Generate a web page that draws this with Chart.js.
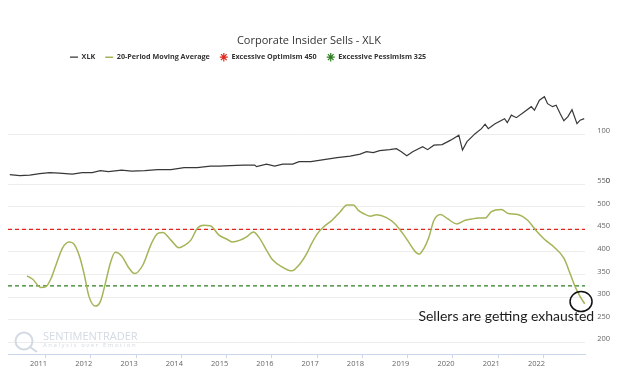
<!DOCTYPE html>
<html>
<head>
<meta charset="utf-8">
<title>Corporate Insider Sells - XLK</title>
<script src="https://cdn.jsdelivr.net/npm/chart.js@4.4.1/dist/chart.umd.min.js"></script>
<style>
  html, body { margin: 0; padding: 0; background: #fff; }
</style>
</head>
<body>
<canvas id="chart" width="635" height="383"></canvas>
<script>
'use strict';

// ─── Data ─────────────────────────────────────────────────────────────────────

// XLK price, dates as decimal years
const xlkDates = [
  2010.21, 2010.43, 2010.65, 2010.87, 2011.09, 2011.30, 2011.59, 2011.81,
  2012.03, 2012.21, 2012.39, 2012.68, 2012.90, 2013.19, 2013.48, 2013.77,
  2014.06, 2014.35, 2014.64, 2014.83, 2015.08, 2015.37, 2015.62, 2015.66,
  2015.88, 2016.06, 2016.24, 2016.46, 2016.60, 2016.86, 2017.15, 2017.44,
  2017.73, 2017.95, 2018.09, 2018.24, 2018.38, 2018.60, 2018.75, 2018.86,
  2018.98, 2019.11, 2019.33, 2019.44, 2019.58, 2019.76, 2019.95, 2020.13,
  2020.21, 2020.31, 2020.49, 2020.63, 2020.71, 2020.78, 2020.93, 2021.14,
  2021.20, 2021.29, 2021.40, 2021.58, 2021.73, 2021.80, 2021.91, 2022.02,
  2022.09, 2022.20, 2022.28, 2022.37, 2022.45, 2022.54, 2022.63, 2022.74,
  2022.81, 2022.90
];
const xlkValues = [
  19, 17, 18, 21, 23, 22, 20, 23,
  23, 27, 25, 28, 26, 27, 29, 29,
  33, 33, 36, 36, 37, 38, 38, 35,
  40, 36, 40, 40, 45, 45, 49, 53,
  56, 60, 65, 63, 67, 69, 71, 65,
  57, 65, 75, 69, 78, 79, 88, 98,
  68, 85, 101, 111, 120, 111, 121, 131,
  123, 138, 133, 145, 155, 148, 168, 175,
  161, 155, 158, 141, 127, 135, 149, 121,
  128, 131
];

// 20-period moving average of insider sells
const maDates = [
  2010.59, 2010.71, 2010.90, 2011.01, 2011.12, 2011.23, 2011.37, 2011.52, 2011.61, 2011.74,
  2011.85, 2011.96, 2012.10, 2012.21, 2012.32, 2012.43, 2012.54, 2012.68, 2012.83, 2012.97,
  2013.15, 2013.34, 2013.48, 2013.59, 2013.77, 2013.95, 2014.06, 2014.21, 2014.35, 2014.50,
  2014.64, 2014.83, 2015.01, 2015.12, 2015.30, 2015.44, 2015.59, 2015.73, 2015.88, 2016.02,
  2016.24, 2016.44, 2016.60, 2016.79, 2016.86, 2017.01, 2017.15, 2017.33, 2017.51, 2017.66,
  2017.80, 2017.91, 2018.02, 2018.17, 2018.31, 2018.53, 2018.71, 2018.89, 2019.04, 2019.17,
  2019.25, 2019.36, 2019.47, 2019.58, 2019.73, 2019.87, 2020.09, 2020.27, 2020.42, 2020.56,
  2020.71, 2020.85, 2021.07, 2021.22, 2021.43, 2021.65, 2021.83, 2022.02, 2022.23, 2022.45,
  2022.60, 2022.70, 2022.81, 2022.91
];
const maValues = [
  347, 340, 321, 323, 341, 371, 408, 422, 419, 393,
  352, 301, 280, 290, 330, 375, 399, 391, 366, 352,
  371, 419, 441, 443, 426, 409, 414, 426, 452, 459,
  458, 437, 428, 422, 426, 433, 444, 430, 404, 382,
  366, 358, 371, 400, 415, 441, 456, 470, 489, 504,
  504, 492, 485, 479, 482, 476, 463, 441, 419, 400,
  395, 408, 433, 470, 483, 474, 462, 470, 473, 475,
  475, 489, 494, 485, 483, 470, 448, 428, 411, 386,
  349, 323, 301, 285
];

const optimismLevel  = 450;
const pessimismLevel = 325;

const yearTicks  = [2011, 2012, 2013, 2014, 2015, 2016, 2017, 2018, 2019, 2020, 2021, 2022];
const priceTicks = [0, 100];
const sellTicks  = [200, 250, 300, 350, 400, 450, 500, 550];

const xMin = 2010.17;
const xMax = 2022.92;

// callout near the last reading
const calloutYear  = 2022.83;
const calloutLevel = 290;
const noteLevel    = 256;
const noteText     = 'Sellers are getting exhausted';

// ─── Helpers ──────────────────────────────────────────────────────────────────

const FONT = '"Open Sans", "Noto Sans", sans-serif';
const toPoints = (xs, ys) => xs.map((x, i) => ({ x, y: ys[i] }));
const fixedTicks = list => axis => { axis.ticks = list.map(v => ({ value: v })); };

// legend sits left of centre in the original, a bit closer to the title
const legendNudge = {
  id: 'legendNudge',
  afterLayout(chart) {
    const lg = chart.legend;
    lg.left += 52; lg.right += 52;
    lg.top -= 4; lg.bottom -= 4;
  }
};

// faint watermark in the lower-left corner
const watermark = {
  id: 'watermark',
  beforeDatasetsDraw(chart) {
    const { ctx, chartArea: a } = chart;
    ctx.save();
    ctx.strokeStyle = '#d3dae3';
    ctx.fillStyle = '#d3dae3';
    ctx.lineWidth = 2;
    ctx.beginPath();
    ctx.arc(a.left + 16, a.bottom - 13, 8.5, 0, Math.PI * 2);
    ctx.stroke();
    ctx.beginPath();
    ctx.moveTo(a.left + 22, a.bottom - 7);
    ctx.lineTo(a.left + 29, a.bottom - 2);
    ctx.stroke();
    ctx.textBaseline = 'middle';
    ctx.font = `11px ${FONT}`;
    ctx.fillText('SENTIMENTRADER', a.left + 35, a.bottom - 17);
    ctx.font = `6px ${FONT}`;
    ctx.fillText('A n a l y s i s   o v e r   E m o t i o n', a.left + 35, a.bottom - 9);
    ctx.restore();
  }
};

// circle + note on the latest moving-average value
const callout = {
  id: 'callout',
  afterDatasetsDraw(chart) {
    const { ctx, chartArea: a, scales: { x, ySells } } = chart;
    const cx = x.getPixelForValue(calloutYear);
    const cy = ySells.getPixelForValue(calloutLevel);
    ctx.save();
    ctx.strokeStyle = '#111';
    ctx.lineWidth = 1.5;
    ctx.beginPath();
    ctx.ellipse(cx, cy, 11, 10, 0, 0, Math.PI * 2);
    ctx.stroke();
    ctx.fillStyle = '#1c1c1c';
    ctx.font = `14px Lato, ${FONT}`;
    ctx.textAlign = 'right';
    ctx.textBaseline = 'middle';
    ctx.fillText(noteText, a.right + 9, ySells.getPixelForValue(noteLevel));
    ctx.restore();
  }
};

// ─── Chart ────────────────────────────────────────────────────────────────────

const tickFont = { family: FONT, size: 7.5 };

new Chart(document.getElementById('chart'), {
  type: 'line',
  data: {
    datasets: [
      {
        label: 'XLK',
        data: toPoints(xlkDates, xlkValues),
        yAxisID: 'yPrice',
        borderColor: '#383838',
        borderWidth: 1.2,
        pointRadius: 0,
        pointStyle: 'line',
        tension: 0,
      },
      {
        label: '20-Period Moving Average',
        data: toPoints(maDates, maValues),
        yAxisID: 'ySells',
        borderColor: '#a3b557',
        borderWidth: 1.5,
        pointRadius: 0,
        pointStyle: 'line',
        cubicInterpolationMode: 'monotone',
      },
      {
        label: 'Excessive Optimism 450',
        data: [{ x: xMin, y: optimismLevel }, { x: xMax, y: optimismLevel }],
        yAxisID: 'ySells',
        borderColor: '#e0261c',
        borderWidth: 1.2,
        borderDash: [4, 3],
        pointRadius: 0,
        pointStyle: 'star',
      },
      {
        label: 'Excessive Pessimism 325',
        data: [{ x: xMin, y: pessimismLevel }, { x: xMax, y: pessimismLevel }],
        yAxisID: 'ySells',
        borderColor: '#2f7d22',
        borderWidth: 1.2,
        borderDash: [4, 3],
        pointRadius: 0,
        pointStyle: 'star',
      },
    ],
  },
  options: {
    responsive: false,
    animation: false,
    layout: { padding: { top: 34.4, left: 8, right: 25, bottom: 14 } },
    scales: {
      x: {
        type: 'linear',
        min: xMin,
        max: xMax,
        afterBuildTicks: fixedTicks(yearTicks),
        grid: { drawOnChartArea: false, tickLength: 4, color: '#ccd6eb' },
        border: { color: '#ccd6eb' },
        ticks: {
          autoSkip: false,
          maxRotation: 0,
          labelOffset: -7,
          padding: 1,
          color: '#666',
          font: tickFont,
          callback: v => String(v),
        },
      },
      yPrice: {
        type: 'linear',
        position: 'right',
        stack: 'panels',
        stackWeight: 109.4,
        min: 0,
        max: 218.8,
        afterBuildTicks: fixedTicks(priceTicks),
        grid: { color: '#ededed', drawTicks: false },
        border: { display: false },
        ticks: { padding: 6, labelOffset: -3, crossAlign: 'far', color: '#666', font: tickFont },
      },
      ySells: {
        type: 'linear',
        position: 'right',
        stack: 'panels',
        stackWeight: 170,
        min: 174,
        max: 550,
        afterBuildTicks: fixedTicks(sellTicks),
        grid: { color: '#ededed', drawTicks: false },
        border: { display: false },
        ticks: { padding: 6, labelOffset: -3, crossAlign: 'far', color: '#666', font: tickFont },
      },
    },
    plugins: {
      title: {
        display: true,
        text: 'Corporate Insider Sells - XLK',
        color: '#333',
        font: { family: FONT, size: 11, weight: 'normal' },
        padding: { top: 0, bottom: 0 },
      },
      legend: {
        align: 'start',
        labels: {
          usePointStyle: true,
          pointStyleWidth: 8,
          boxHeight: 6,
          padding: 10,
          color: '#333',
          font: { family: FONT, size: 7.2, weight: 'bold' },
        },
      },
      tooltip: { enabled: false },
    },
  },
  plugins: [legendNudge, watermark, callout],
});
</script>
</body>
</html>
